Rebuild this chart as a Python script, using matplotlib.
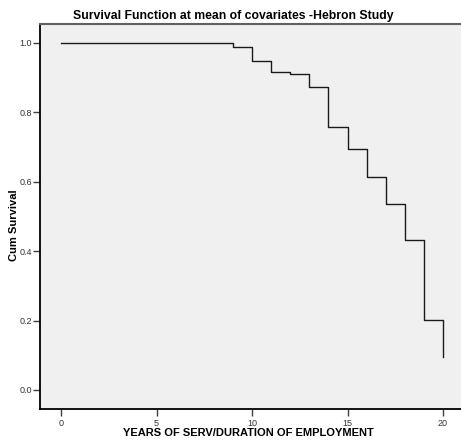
import matplotlib
matplotlib.use("Agg")
import matplotlib.pyplot as plt

# Data
years = [0, 9, 10, 11, 12, 13, 14, 15, 16, 17, 18, 19, 20]
cum_survival = [1.0, 0.989, 0.947, 0.915, 0.910, 0.873, 0.758, 0.695,
                0.613, 0.535, 0.432, 0.201, 0.094]
x_ticks = [0, 5, 10, 15, 20]
y_ticks = [0.0, 0.2, 0.4, 0.6, 0.8, 1.0]
y_tick_labels = ["0.0", "0.2", "0.4", "0.6", "0.8", "1.0"]

plt.rcParams['font.family'] = ['Liberation Sans', 'DejaVu Sans']

fig = plt.figure(figsize=(4.61, 4.45), dpi=100)
W, H = 461, 445
left, right, top, bottom = 40, 461, 23.5, 409
ax = fig.add_axes([left / W, (H - bottom) / H, (right - left) / W, (bottom - top) / H])
ax.set_facecolor('#f0f0f0')

ax.step(years, cum_survival, where='post', color='#1a1a1a', linewidth=1.0)

ax.set_xlim(-1.1, 20.94)
ax.set_ylim(-0.055, 1.056)
ax.set_xticks(x_ticks)
ax.set_xticklabels([str(t) for t in x_ticks])
ax.set_yticks(y_ticks)
ax.set_yticklabels(y_tick_labels)

ax.spines['right'].set_visible(False)
ax.spines['top'].set_color('#606060')
ax.spines['top'].set_linewidth(1.5)
ax.spines['left'].set_color('#000000')
ax.spines['left'].set_linewidth(1.3)
ax.spines['bottom'].set_color('#000000')
ax.spines['bottom'].set_linewidth(1.3)

ax.tick_params(axis='both', direction='out', length=4.7, width=1.0,
               color='#404040', labelsize=6.5, labelcolor='#333333')
ax.tick_params(axis='x', pad=2.6)
ax.tick_params(axis='y', pad=1.0)

fig.text(233 / W, 1 - 16 / H, "Survival Function at mean of covariates -Hebron Study",
         ha='center', va='center', fontsize=8.8, fontweight='bold')
fig.text(248.5 / W, 1 - 432.5 / H, "YEARS OF SERV/DURATION OF EMPLOYMENT",
         ha='center', va='center', fontsize=8, fontweight='bold')
fig.text(14 / W, 1 - 225 / H, "Cum Survival", rotation=90,
         ha='center', va='center', fontsize=8, fontweight='bold')

fig.savefig("out.png", dpi=100, facecolor='white')
